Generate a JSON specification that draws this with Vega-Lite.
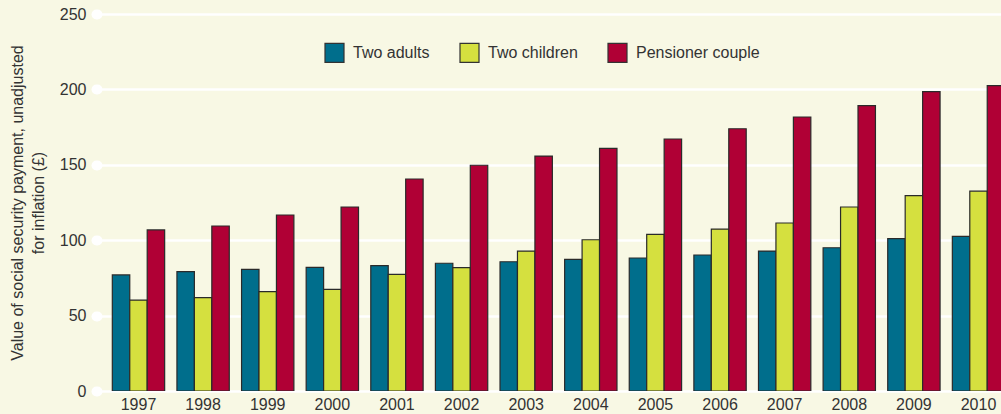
{
  "$schema": "https://vega.github.io/schema/vega-lite/v6.json",
  "autosize": "none",
  "width": 904,
  "height": 377,
  "padding": {"left": 97, "top": 14, "right": 0, "bottom": 23},
  "background": "#F8F8E4",
  "config": {
    "view": {"stroke": null},
    "font": "Liberation Sans"
  },
  "data": {
    "values": [
      {"year": "1997", "group": "Two adults", "value": 77},
      {"year": "1997", "group": "Two children", "value": 60.3},
      {"year": "1997", "group": "Pensioner couple", "value": 106.8},
      {"year": "1998", "group": "Two adults", "value": 79.1},
      {"year": "1998", "group": "Two children", "value": 61.9},
      {"year": "1998", "group": "Pensioner couple", "value": 109.4},
      {"year": "1999", "group": "Two adults", "value": 80.7},
      {"year": "1999", "group": "Two children", "value": 65.9},
      {"year": "1999", "group": "Pensioner couple", "value": 116.7},
      {"year": "2000", "group": "Two adults", "value": 82},
      {"year": "2000", "group": "Two children", "value": 67.4},
      {"year": "2000", "group": "Pensioner couple", "value": 122},
      {"year": "2001", "group": "Two adults", "value": 83.1},
      {"year": "2001", "group": "Two children", "value": 77.4},
      {"year": "2001", "group": "Pensioner couple", "value": 140.6},
      {"year": "2002", "group": "Two adults", "value": 84.7},
      {"year": "2002", "group": "Two children", "value": 81.8},
      {"year": "2002", "group": "Pensioner couple", "value": 149.7},
      {"year": "2003", "group": "Two adults", "value": 85.7},
      {"year": "2003", "group": "Two children", "value": 92.8},
      {"year": "2003", "group": "Pensioner couple", "value": 155.8},
      {"year": "2004", "group": "Two adults", "value": 87.3},
      {"year": "2004", "group": "Two children", "value": 100.3},
      {"year": "2004", "group": "Pensioner couple", "value": 160.9},
      {"year": "2005", "group": "Two adults", "value": 88.2},
      {"year": "2005", "group": "Two children", "value": 103.9},
      {"year": "2005", "group": "Pensioner couple", "value": 167.1},
      {"year": "2006", "group": "Two adults", "value": 90.2},
      {"year": "2006", "group": "Two children", "value": 107.4},
      {"year": "2006", "group": "Pensioner couple", "value": 173.9},
      {"year": "2007", "group": "Two adults", "value": 92.8},
      {"year": "2007", "group": "Two children", "value": 111.4},
      {"year": "2007", "group": "Pensioner couple", "value": 181.7},
      {"year": "2008", "group": "Two adults", "value": 95},
      {"year": "2008", "group": "Two children", "value": 122},
      {"year": "2008", "group": "Pensioner couple", "value": 189.2},
      {"year": "2009", "group": "Two adults", "value": 101},
      {"year": "2009", "group": "Two children", "value": 129.5},
      {"year": "2009", "group": "Pensioner couple", "value": 198.5},
      {"year": "2010", "group": "Two adults", "value": 102.6},
      {"year": "2010", "group": "Two children", "value": 132.5},
      {"year": "2010", "group": "Pensioner couple", "value": 202.5}
    ]
  },
  "mark": {"type": "bar", "clip": true, "stroke": "#2a2a2a", "strokeWidth": 1.2},
  "encoding": {
    "x": {
      "field": "year",
      "type": "nominal",
      "scale": {"paddingInner": 0.19, "paddingOuter": 0.237, "range": [0, 923]},
      "axis": {
        "title": null,
        "domain": false,
        "ticks": false,
        "labelAngle": 0,
        "labelPadding": 5,
        "labelFontSize": 16,
        "labelColor": "#333333",
        "grid": false
      }
    },
    "xOffset": {
      "field": "group",
      "type": "nominal",
      "sort": ["Two adults", "Two children", "Pensioner couple"],
      "scale": {"paddingInner": 0, "paddingOuter": 0}
    },
    "y": {
      "field": "value",
      "type": "quantitative",
      "scale": {"domain": [0, 250], "nice": false},
      "axis": {
        "values": [0, 50, 100, 150, 200, 250],
        "title": ["Value of social security payment, unadjusted", "for inflation (£)"],
        "titleFontSize": 16,
        "titleFontWeight": "normal",
        "titleColor": "#333333",
        "titleLineHeight": 21,
        "titlePadding": 13,
        "domain": false,
        "grid": true,
        "gridColor": "#ffffff",
        "gridWidth": 2.5,
        "gridOpacity": 1,
        "tickColor": "#ffffff",
        "tickWidth": 10,
        "tickCap": "round",
        "tickSize": 1,
        "tickOpacity": 1,
        "labelPadding": 10,
        "labelFontSize": 16,
        "labelColor": "#333333"
      }
    },
    "color": {
      "field": "group",
      "type": "nominal",
      "sort": ["Two adults", "Two children", "Pensioner couple"],
      "scale": {
        "domain": ["Two adults", "Two children", "Pensioner couple"],
        "range": ["#006E8C", "#D5E03F", "#B00035"]
      },
      "legend": {
        "title": null,
        "orient": "none",
        "legendX": 227,
        "legendY": 28,
        "direction": "horizontal",
        "symbolType": "square",
        "symbolSize": 361,
        "symbolStrokeColor": "#333333",
        "symbolStrokeWidth": 1.2,
        "symbolOpacity": 1,
        "labelFontSize": 16,
        "labelColor": "#333333",
        "labelOffset": 8,
        "columnPadding": 27
      }
    }
  }
}
